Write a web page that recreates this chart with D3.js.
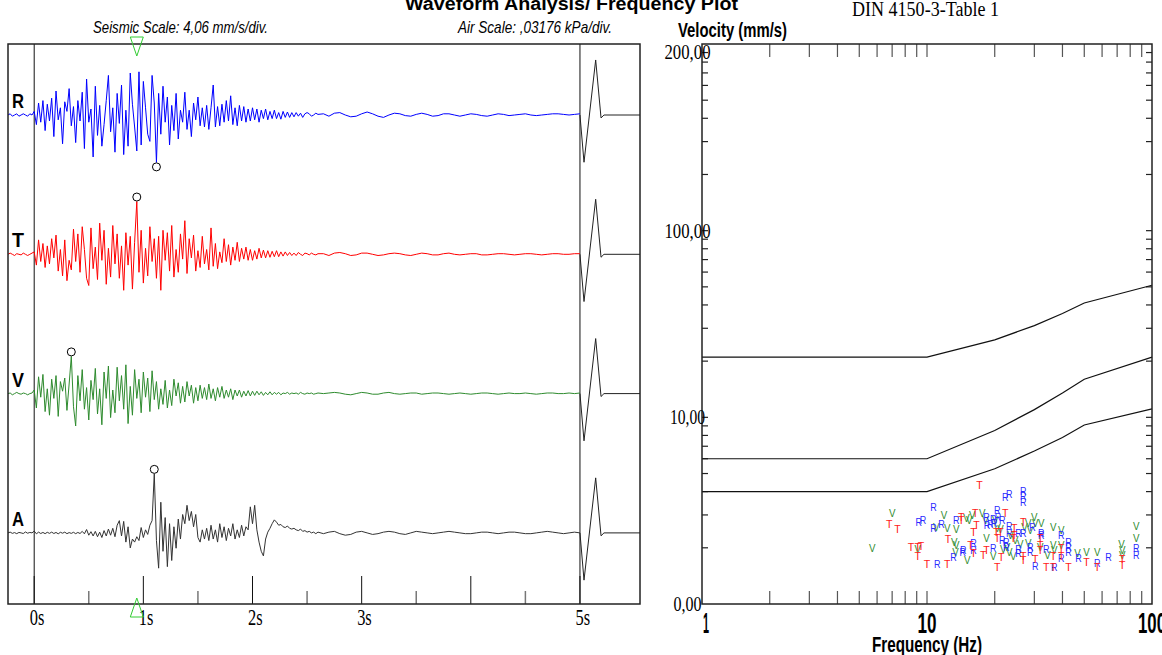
<!DOCTYPE html>
<html>
<head>
<meta charset="utf-8">
<script src="https://cdn.jsdelivr.net/npm/d3@7"></script>
<style>
html, body { margin: 0; padding: 0; background: #fff; }
svg { display: block; }
</style>
</head>
<body>
<svg id="chart" width="1162" height="655"></svg>
<script>
// ---------------- Waveform data ----------------
// Samples from -0.24 s every 0.02 s up to 2.60 s, then every 0.05 s from 2.65 s to 5.00 s.
// Seismic channels in mm/s, air channel in Pa.
const burstStart = -0.24, burstStep = 0.02;
const tailStart = 2.65, tailStep = 0.05;

const radialBurst = [
  0, 0.1, -0.1, 0, 0.1, -0.1, 0, 0.1, 0, -0.1,
  0.1, 0, 0.3, -0.8, 1.0, -0.6, 1.2, -1.3, 0.9, -0.5,
  1.4, -1.8, 2.0, -0.4, 0.6, -2.4, 1.1, 0.3, 2.2, -0.9,
  0.7, -2.3, 1.2, -0.5, 1.9, -2.8, 3.0, -0.6, 0.5, -3.5,
  2.4, -1.7, 0.8, -2.6, -0.8, 1.2, 3.3, -1.4, 0.6, -3.1,
  1.8, -0.7, 2.5, -3.3, 0.4, -2.6, 3.5, 0.9, -1.0, -3.0,
  3.6, -2.5, 2.8, 0.6, -1.6, -2.2, 3.3, 1.0, -3.95, 1.8,
  -1.6, 2.4, -0.6, 1.5, -2.5, 0.8, -1.3, 1.8, -2.0, 0.4,
  -0.6, 1.9, -1.2, 0.4, -1.8, 1.0, -0.4, 1.5, -0.9, 0.6,
  -1.0, 0.8, -1.2, 0.6, 2.5, -1.0, 0.7, -0.9, 0.9, -0.6,
  1.2, -0.5, 1.6, -0.8, 0.6, -0.9, 0.8, -0.5, 0.7, -0.6,
  0.5, -0.5, 0.6, -0.4, 0.5, -0.6, 0.4, -0.3, 0.5, -0.4,
  0.3, -0.3, 0.4, -0.3, 0.2, -0.35, 0.3, -0.2, 0.25, -0.2,
  0.2, -0.15, 0.2, -0.1, 0.15, -0.2, 0.1, 0.2, 0.1, -0.1,
  0, 0.15, 0.05
];
const radialTail = [
  0.1, -0.1, 0.15, 0.2, 0, -0.15, -0.1, 0.1, 0.25, 0.1,
  -0.1, -0.2, 0, 0.15, 0.1, -0.05, -0.1, 0.05, 0.15, 0.05,
  -0.1, -0.05, 0.1, 0.1, 0, -0.1, 0, 0.1, 0.05, -0.05,
  -0.1, 0, 0.1, 0.05, -0.05, 0, 0.05, 0.1, 0, -0.05,
  0, 0.05, 0.1, 0.1, 0.05, 0, 0.05, 0.1
];

const transBurst = [
  0, 0.1, 0, -0.1, 0.05, 0, -0.05, 0.1, 0, -0.1,
  0, 0.1, 0.2, -0.9, 1.2, -0.6, 0.9, -1.1, 0.7, -0.8,
  1.3, -0.3, 1.6, -1.4, 0.4, -1.8, 1.2, -2.2, -0.5, -1.3,
  2.1, -0.6, 1.7, -1.5, 2.3, 0.4, -2.0, -2.6, 2.2, -1.2,
  0.6, -2.1, 2.6, -0.5, 2.0, -2.5, 0.5, -1.9, 2.4, -0.8,
  1.7, -2.0, 0.7, -3.0, 1.8, -0.9, 1.5, -2.9, 1.0, 4.4,
  -1.5, 2.0, -2.4, 0.5, -1.8, 2.3, -0.6, 1.3, -2.0, 1.5,
  -3.0, 2.0, -0.5, 1.8, -1.4, 2.4, -1.9, 0.4, -1.5, 1.7,
  -0.4, 2.8, -1.6, 1.3, -0.3, 1.6, -1.4, 0.3, -1.1, 1.5,
  -0.8, 0.4, -1.3, 2.2, -1.0, 0.9, -1.2, 0.2, -0.7, 1.3,
  -0.6, 0.8, -0.9, 0.6, -0.5, 1.0, -0.6, 0.5, -0.4, 0.6,
  -0.5, 0.4, -0.5, 0.3, -0.4, 0.5, -0.3, 0.35, -0.3, 0.3,
  -0.25, 0.25, -0.2, 0.3, -0.2, 0.2, -0.15, 0.2, -0.1, 0.15,
  -0.1, 0.1, -0.1, 0.15, 0, -0.1, 0.1, 0.05, -0.05, 0.1,
  0, -0.05, 0.05
];
const transTail = [
  0.05, -0.1, 0.1, 0.15, 0.05, -0.1, -0.05, 0.1, 0.1, 0,
  -0.1, -0.05, 0.05, 0.1, 0.05, -0.05, -0.1, 0, 0.1, 0.05,
  -0.05, -0.05, 0.05, 0.1, 0, -0.05, 0, 0.05, 0.05, -0.05,
  -0.05, 0, 0.05, 0.05, 0, -0.05, 0, 0.05, 0.05, 0,
  -0.05, 0, 0.05, 0.05, 0, 0, 0.05, 0.05
];

const vertBurst = [
  0, 0.05, -0.1, 0, 0.1, 0, -0.05, 0.05, 0, -0.1,
  0, 0.05, 0.3, -1.2, 1.4, -0.3, 1.6, -1.5, 0.4, -1.8,
  1.2, -0.4, 1.5, -1.9, 1.0, 0.2, 1.3, -1.4, 0.8, 3.1,
  -1.1, -2.7, 1.5, -0.6, 2.0, -1.3, 0.5, -2.2, 1.1, -0.5,
  2.1, -1.7, 0.4, -2.6, 1.8, -0.4, 2.3, -2.0, 0.3, -1.6,
  2.2, -0.6, 1.5, -1.3, 2.4, -2.5, 0.6, -1.8, 2.0, -0.4,
  1.2, -1.6, 1.8, -0.3, 1.3, -1.5, 1.9, -0.5, 1.0, -1.3,
  0.4, -0.9, 1.1, -1.2, 0.3, -1.0, 1.2, -0.2, 0.9, -0.8,
  0.6, -0.7, 1.0, -0.2, 0.7, -0.8, 0.5, -0.6, 0.7, -0.4,
  0.5, -0.5, 0.8, -0.4, 0.4, -0.6, 0.5, -0.3, 0.6, -0.4,
  0.3, -0.3, 0.4, -0.5, 0.3, -0.2, 0.3, -0.3, 0.2, -0.2,
  0.25, -0.2, 0.2, -0.15, 0.2, -0.1, 0.15, -0.15, 0.1, -0.1,
  0.15, -0.1, 0.1, -0.05, 0.1, -0.1, 0.05, 0, 0.1, -0.05,
  0.05, 0, 0.05, -0.05, 0.1, 0, -0.05, 0.05, 0, 0.05,
  -0.05, 0, 0.05
];
const vertTail = [
  0, 0.05, 0.1, 0.05, -0.05, -0.1, 0, 0.1, 0.05, -0.05,
  -0.05, 0.05, 0.1, 0, -0.05, 0, 0.05, 0.05, -0.05, 0,
  0.05, 0.05, 0, -0.05, 0, 0.05, 0, -0.05, 0, 0.05,
  0.05, 0, -0.05, 0, 0.05, 0, 0, 0.05, 0, -0.05,
  0, 0.05, 0.05, 0, 0, 0.05, 0, 0.05
];

const airBurst = [
  0, 0.5, -0.3, 0.2, -0.5, 0.3, 0, -0.4, 0.6, -0.2,
  0.3, 0, 1.2, -0.6, 0.5, -0.4, 0.3, -0.5, 0.4, -0.3,
  0.5, -0.4, 0.3, -0.6, 0.4, -0.2, 0.5, -0.5, 0.2, -0.3,
  0.4, -0.5, 0.3, -0.4, 1.0, -0.6, 2.2, -1.5, 0.8, -2.0,
  1.0, -2.5, 0.5, -3.0, 1.5, -2.0, 2.5, -1.5, 3.0, -2.5,
  5.0, 8.0, -2.0, 7.5, -6.0, 4.0, -9.8, -4.0, -6.0, -2.5,
  -5.0, 3.5, -3.0, 2.0, -1.0, 5.0, 8.0, 38.5, -5.0, -23.0,
  20.0, -12.0, 10.0, -22.0, 6.0, -18.0, 4.0, -10.0, 9.0, -4.0,
  12.0, 6.0, 18.0, 8.0, 14.0, 4.0, 12.0, -3.0, -6.0, 2.0,
  -4.0, 3.0, -5.0, 5.0, -4.0, 2.0, -6.0, 6.0, -3.0, 4.0,
  -5.0, 3.0, -2.0, 6.0, -4.0, 2.0, -3.0, 5.0, -2.0, 4.0,
  2.0, 17.0, 6.0, 18.0, 2.0, -6.0, -12.0, -15.0, -4.0, 0.5,
  3.0, 6.0, 8.5, 7.0, 5.0, 5.5, 4.0, 3.5, 4.5, 3.0,
  2.5, 3.0, 2.0, 1.5, 2.5, 1.0, 1.5, 0.5, 1.0, 0,
  0.5, -0.5, 0.5
];
const airTail = [
  -0.5, 0.5, 1.0, -0.5, -1.5, -1.0, 0.5, 1.0, 0, -1.0,
  -0.5, 0.5, 1.0, 0.5, -0.5, -1.0, 0, 1.0, 0.5, 0,
  -0.5, 0, 0.5, 1.0, 0.5, 0, -0.5, -0.5, 0, 0.5,
  0.5, 0, -0.5, 0, 0.5, 0.5, 0, -0.5, -0.5, 0,
  0.5, 1.0, 0.5, 0, -0.5, 0, 0.5, 0
];

// Calibration pulse after the record (in divisions)
const calTimes = [5.0, 5.037, 5.144, 5.193, 5.22, 5.55];
const calDivs  = [0, -0.97, 1.13, -0.06, 0, 0];

const channelNames  = ["R", "T", "V", "A"];
const channelColors = ["#0000ff", "#ff0000", "#2e8b2e", "#333333"];

const seismicScale = 4.06;   // mm/s per division
const airScalePa   = 31.76;  // Pa per division (0,03176 kPa)

const timeMajor  = [0, 1, 2, 3, 4, 5];
const timeLabels = ["0s", "1s", "2s", "3s", "", "5s"];
const timeMinor  = [0.5, 1.5, 2.5, 3.5, 4.5];

// ---------------- Frequency plot data ----------------
const dinFreq  = [1, 10, 20, 30, 40, 50, 100];
const dinLine1 = [21, 21, 26, 31, 36, 41, 51];
const dinLine2 = [6, 6, 8.5, 11, 13.5, 16, 21];
const dinLine3 = [4, 4, 5.3, 6.6, 7.8, 9.1, 11.1];

const yTickValues = [1, 10, 100, 1000];
const yTickLabels = ["0,00", "10,00", "100,00", "200,00"];
const xTickValues = [1, 10, 100];
const xTickLabels = ["1", "10", "100"];

const radialFreq = [22.3,23.2,26.8,26.8,26.8,9.2,9.6,10.7,10.7,11.6,13.5,18.4,18.5,19.1,20.5,20.7,19.7,19.9,21.6,23.2,23.2,21.6,22.5,25.5,26.8,29.4,32.2,32.2,39.5,42.5,42.5,42.5,47.1,57.1,64.0,85.2,85.2,11.1,13.1,14.4,14.5,16.1,16.1,19.7,22.5,25.5,25.5,28.8,28.8,30.3,33.9,36.8,39.5];
const radialPeak = [3.74,3.88,4.03,3.79,3.52,2.75,2.82,3.31,2.55,2.68,2.82,2.92,2.65,2.68,3.19,2.92,2.85,2.72,2.82,2.62,2.40,2.20,2.15,2.40,2.40,2.58,2.40,2.34,2.34,2.15,2.02,1.90,1.76,1.66,1.79,2.00,1.83,1.64,1.79,1.90,1.95,2.12,1.95,2.00,2.02,1.97,1.88,2.02,1.90,1.60,1.97,1.58,1.76];

const transFreq = [17.1,6.8,7.4,12.4,14.2,14.2,16.4,16.1,16.6,22.3,20.3,20.5,21.2,24.4,24.4,24.2,26.8,31.9,31.9,31.9,51.1,57.1,73.8,73.8,8.5,9.1,9.4,9.1,10.0,12.3,15.6,16.1,17.8,18.4,20.5,21.4,26.8,26.8,30.3,33.9,36.4,36.4,42.5,39.5,39.5];
const transPeak = [4.34,2.68,2.52,2.23,2.92,2.82,3.07,2.43,2.65,3.07,2.43,2.26,2.43,2.55,2.34,2.26,2.75,2.26,2.07,1.95,1.68,1.58,1.74,1.62,2.02,2.02,2.05,1.81,1.64,1.64,2.07,1.88,1.83,1.95,1.58,1.79,1.81,1.72,1.74,1.58,1.81,1.58,1.58,1.81,2.00];

const vertFreq = [7.0,11.0,11.9,12.3,13.2,13.5,15.0,15.4,15.9,17.6,18.2,20.1,20.5,21.2,18.4,23.5,24.7,27.1,28.2,28.8,30.0,30.3,32.2,36.4,39.5,36.4,36.8,39.5,46.6,51.1,57.1,73.1,73.8,73.8,85.2,85.2,5.71,9.1,13.4,13.5,15.1,19.7,21.8,22.7,23.2,24.2,26.0,28.2,31.9,34.3];
const vertPeak = [3.07,2.58,3.00,2.55,2.15,2.52,2.89,2.82,3.00,3.07,2.82,2.82,2.55,2.52,2.26,2.34,2.20,2.58,2.72,2.49,2.92,2.72,2.72,2.58,2.49,2.07,1.95,2.07,1.88,1.90,1.90,2.10,1.95,1.83,2.62,2.26,2.00,1.97,1.90,2.07,1.72,1.81,1.97,2.02,1.90,1.81,2.10,2.12,2.02,1.83];

// ---------------- Drawing ----------------
const svg = d3.select("#chart");
const SERIF = "'Liberation Serif', 'Times New Roman', serif";
const SANS  = "'Liberation Sans', Arial, sans-serif";

function addText(parent, x, y, str, o) {
  const t = parent.append("text")
    .attr("x", x).attr("y", y)
    .attr("font-family", o.family || SANS)
    .attr("font-size", o.size || 14)
    .attr("fill", o.fill || "#000")
    .attr("text-anchor", o.anchor || "start")
    .text(str);
  if (o.weight) t.attr("font-weight", o.weight);
  if (o.style) t.attr("font-style", o.style);
  if (o.width) t.attr("textLength", o.width).attr("lengthAdjust", "spacingAndGlyphs");
  return t;
}

// Headings
addText(svg, 405, 10, "Waveform Analysis/ Frequency Plot", {size: 18, weight: "bold", width: 333});
addText(svg, 93, 33, "Seismic Scale: 4,06 mm/s/div.", {size: 17, style: "italic", width: 175});
addText(svg, 458, 33, "Air Scale: ,03176 kPa/div.", {size: 17, style: "italic", width: 154});
addText(svg, 852, 16, "DIN 4150-3-Table 1", {family: SERIF, size: 20, width: 147});
addText(svg, 678, 37, "Velocity (mm/s)", {size: 20, weight: "bold", width: 109});

// ---------- Waveform panel ----------
const wave = {left: 8, right: 640, top: 44, bottom: 604};
const xTime = d3.scaleLinear().domain([-0.24, 5.55]).range([wave.left, wave.right]);
const divPx = 48.7;
const baseY0 = 115, channelGap = 139.3;

const wg = svg.append("g");

// zero and end-of-record lines
[0, 5].forEach(t => {
  wg.append("line")
    .attr("x1", xTime(t)).attr("x2", xTime(t))
    .attr("y1", wave.top).attr("y2", wave.bottom)
    .attr("stroke", "#111").attr("stroke-width", 1);
});

// time ticks
timeMinor.forEach(t => {
  wg.append("line").attr("x1", xTime(t)).attr("x2", xTime(t))
    .attr("y1", wave.bottom).attr("y2", wave.bottom - 13)
    .attr("stroke", "#777").attr("stroke-width", 1.5);
});
timeMajor.forEach((t, i) => {
  wg.append("line").attr("x1", xTime(t)).attr("x2", xTime(t))
    .attr("y1", wave.bottom).attr("y2", wave.bottom - 28)
    .attr("stroke", "#111").attr("stroke-width", 1);
  if (timeLabels[i]) {
    addText(wg, xTime(t) - 4.5, 625, timeLabels[i], {family: SERIF, size: 23, width: 14.6});
  }
});

const traces = [
  {burst: radialBurst, tail: radialTail, scale: seismicScale},
  {burst: transBurst,  tail: transTail,  scale: seismicScale},
  {burst: vertBurst,   tail: vertTail,   scale: seismicScale},
  {burst: airBurst,    tail: airTail,    scale: airScalePa}
];

let ppv = {value: 0, time: 0};

traces.forEach((tr, k) => {
  const base = baseY0 + channelGap * k;
  const ys = d3.scaleLinear().domain([-tr.scale, tr.scale]).range([base + divPx, base - divPx]);
  const pts = tr.burst.map((v, i) => [burstStart + burstStep * i, v])
    .concat(tr.tail.map((v, j) => [tailStart + tailStep * j, v]));
  const line = d3.line().x(d => xTime(d[0])).y(d => ys(d[1]));

  wg.append("path").datum(pts)
    .attr("d", line)
    .attr("fill", "none")
    .attr("stroke", channelColors[k])
    .attr("stroke-width", 1)
    .attr("stroke-linejoin", "round");

  // calibration pulse
  const cal = calTimes.map((t, i) => [t, calDivs[i] * tr.scale]);
  wg.append("path").datum(cal)
    .attr("d", line)
    .attr("fill", "none")
    .attr("stroke", "#222")
    .attr("stroke-width", 1);

  // peak marker
  const pi = d3.maxIndex(pts, d => Math.abs(d[1]));
  const pv = pts[pi][1];
  const tipY = ys(pv);
  wg.append("circle")
    .attr("cx", xTime(pts[pi][0]))
    .attr("cy", tipY + (pv > 0 ? -4.5 : 4.5))
    .attr("r", 4)
    .attr("fill", "none")
    .attr("stroke", "#000")
    .attr("stroke-width", 1);

  if (tr.scale === seismicScale && Math.abs(pv) > ppv.value) {
    ppv = {value: Math.abs(pv), time: pts[pi][0]};
  }

  addText(wg, 12, base - 7, channelNames[k], {size: 21, weight: "bold", width: 12});
});

// panel frame
wg.append("rect")
  .attr("x", wave.left).attr("y", wave.top)
  .attr("width", wave.right - wave.left).attr("height", wave.bottom - wave.top)
  .attr("fill", "none").attr("stroke", "#222").attr("stroke-width", 1.5);

// PPV time markers
const px = xTime(ppv.time);
wg.append("path")
  .attr("d", `M${px - 6.5},37 L${px + 6.5},37 L${px},56 Z`)
  .attr("fill", "none").attr("stroke", "#33cc33").attr("stroke-width", 1);
wg.append("path")
  .attr("d", `M${px - 6.5},617 L${px + 6.5},617 L${px},598 Z`)
  .attr("fill", "none").attr("stroke", "#33cc33").attr("stroke-width", 1);

// ---------- Frequency panel ----------
const fp = {left: 702, right: 1152, top: 44, bottom: 604};
const xf = d3.scaleLog().domain([1, 100]).range([fp.left, fp.right]);
const yv = d3.scaleLog().domain([1, 1000]).range([fp.bottom, fp.top]);
const fg = svg.append("g");

// frequency ticks (top and bottom)
xf.ticks().filter(f => f > 1 && f < 100).forEach(f => {
  [[fp.bottom, fp.bottom - 13], [fp.top, fp.top + 13]].forEach(([a, b]) => {
    fg.append("line").attr("x1", xf(f)).attr("x2", xf(f)).attr("y1", a).attr("y2", b)
      .attr("stroke", "#555").attr("stroke-width", 1.2);
  });
});

// velocity ticks (left and right)
yv.ticks().filter(v => v > 1 && v < 1000).forEach(v => {
  [[fp.left, fp.left + 6], [fp.right, fp.right - 6]].forEach(([a, b]) => {
    fg.append("line").attr("x1", a).attr("x2", b).attr("y1", yv(v)).attr("y2", yv(v))
      .attr("stroke", "#222").attr("stroke-width", 1.2);
  });
});

// DIN guide lines
const dinLine = d3.line().x(d => xf(d[0])).y(d => yv(d[1]));
[dinLine1, dinLine2, dinLine3].forEach(vals => {
  fg.append("path").datum(dinFreq.map((f, i) => [f, vals[i]]))
    .attr("d", dinLine)
    .attr("fill", "none").attr("stroke", "#111").attr("stroke-width", 1.2);
});

// frame
fg.append("rect")
  .attr("x", fp.left).attr("y", fp.top)
  .attr("width", fp.right - fp.left).attr("height", fp.bottom - fp.top)
  .attr("fill", "none").attr("stroke", "#222").attr("stroke-width", 1.5);

// zero-crossing frequency points
const scatterSets = [
  {name: "R", freq: radialFreq, vel: radialPeak, color: "#2a2aff"},
  {name: "T", freq: transFreq,  vel: transPeak,  color: "#ff2020"},
  {name: "V", freq: vertFreq,   vel: vertPeak,   color: "#2e8b2e"}
];
[scatterSets[2], scatterSets[0], scatterSets[1]].forEach(s => {
  fg.selectAll(null).data(s.freq.map((f, i) => [f, s.vel[i]]))
    .enter().append("text")
    .attr("x", d => xf(d[0]))
    .attr("y", d => yv(d[1]) + 4)
    .attr("text-anchor", "middle")
    .attr("font-family", SANS)
    .attr("font-size", 11)
    .attr("textLength", 6.5)
    .attr("lengthAdjust", "spacingAndGlyphs")
    .attr("fill", s.color)
    .text(s.name);
});

// axis labels
yTickValues.forEach((v, i) => {
  const w = [28, 35, 46, 46][i];
  addText(fg, 687.5, Math.max(yv(v) + 7, 59), yTickLabels[i], {family: SERIF, size: 22, anchor: "middle", width: w});
});
xTickValues.forEach((f, i) => {
  const w = [6, 19, 28][i];
  const x = i === 0 ? xf(f) + 4 : xf(f);
  addText(fg, x, 633, xTickLabels[i], {size: 30, weight: "bold", anchor: "middle", width: w});
});
addText(fg, 927, 652, "Frequency (Hz)", {size: 22, weight: "bold", anchor: "middle", width: 110});
</script>
</body>
</html>
